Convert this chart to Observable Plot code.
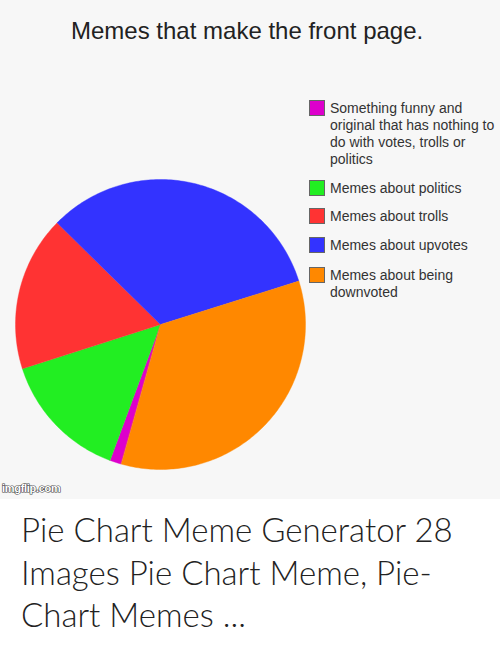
<!DOCTYPE html>
<html>
<head>
<meta charset="utf-8">
<script src="https://cdn.jsdelivr.net/npm/d3@7"></script>
<script src="https://cdn.jsdelivr.net/npm/@observablehq/plot@0.6"></script>
<style>
  html, body { margin: 0; padding: 0; background: #ffffff; }
  #wrap { position: relative; width: 500px; height: 652px; overflow: hidden; }
  #panel { position: absolute; left: 0; top: 0; width: 500px; height: 499px; background: #f7f7f7; }
  #title { position: absolute; left: 71px; top: 18.7px; font: 24px/24px "Liberation Sans", Arial, sans-serif; color: #222; white-space: nowrap; }
  #chart { position: absolute; left: 0; top: 50px; }
  #legend { position: absolute; left: 0; top: 0; }
  .item { position: absolute; left: 309px; }
  .sw { position: absolute; left: 0; top: 0; width: 14px; height: 14px; border: 1px solid #666; }
  .lbl { position: absolute; left: 21px; top: 0; font: 14px/17px "Liberation Sans", Arial, sans-serif; color: #333; white-space: nowrap; }
  #wm { position: absolute; left: 2px; top: 481px; font: bold 11px/14px "Liberation Sans", Arial, sans-serif; color: #fff; -webkit-text-stroke: 1.2px #444; paint-order: stroke fill; letter-spacing: -0.3px; }
  #caption { position: absolute; left: 21px; top: 508px; font: 300 33px/42.5px Lato, "Open Sans", sans-serif; color: #222; white-space: nowrap; }
</style>
</head>
<body>
<div id="wrap">
  <div id="panel"></div>
  <div id="title"></div>
  <div id="chart"></div>
  <div id="legend"></div>
  <div id="wm">imgflip.com</div>
  <div id="caption"></div>
</div>
<script>
// ---- data ----
const titleText = "Memes that make the front page.";
const categories = [
  "Something funny and original that has nothing to do with votes, trolls or politics",
  "Memes about politics",
  "Memes about trolls",
  "Memes about upvotes",
  "Memes about being downvoted"
];
const legendLines = [
  ["Something funny and", "original that has nothing to", "do with votes, trolls or", "politics"],
  ["Memes about politics"],
  ["Memes about trolls"],
  ["Memes about upvotes"],
  ["Memes about being", "downvoted"]
];
const values = [1.3, 14.4, 17.3, 32.8, 34.2];
const colors = ["#dd00cc", "#22ee22", "#ff3333", "#3333ff", "#ff8800"];
const startAngleDeg = 195.7;
const legendTops = [100, 180, 208, 237, 267];
const captionLines = ["Pie Chart Meme Generator 28", "Images Pie Chart Meme, Pie-", "Chart Memes ..."];

// ---- build slice polygons (unit circle, y down) ----
const start = startAngleDeg * Math.PI / 180;
const arcs = d3.pie().sort(null).value(d => d.value).startAngle(start).endAngle(start + 2 * Math.PI)(
  categories.map((name, i) => ({name, value: values[i]}))
);
const features = arcs.map(a => {
  const ring = [[0, 0]];
  const n = Math.max(2, Math.ceil((a.endAngle - a.startAngle) / (Math.PI / 180)));
  for (let k = 0; k <= n; ++k) {
    const t = a.startAngle + (a.endAngle - a.startAngle) * k / n;
    ring.push([Math.sin(t), -Math.cos(t)]);
  }
  ring.push([0, 0]);
  return {type: "Feature", properties: {name: a.data.name}, geometry: {type: "Polygon", coordinates: [ring]}};
});

const chart = Plot.plot({
  width: 500,
  height: 449,
  marginLeft: 15,
  marginRight: 195,
  marginTop: 129,
  marginBottom: 30,
  style: {background: "transparent"},
  projection: {type: "identity", domain: {type: "MultiPoint", coordinates: [[-1, -1], [1, 1]]}},
  color: {domain: categories, range: colors},
  marks: [
    Plot.geo(features, {fill: d => d.properties.name, stroke: d => d.properties.name, strokeWidth: 0.4})
  ]
});
document.getElementById("chart").appendChild(chart);

document.getElementById("title").textContent = titleText;

const legend = document.getElementById("legend");
categories.forEach((c, i) => {
  const item = document.createElement("div");
  item.className = "item";
  item.style.top = legendTops[i] + "px";
  const sw = document.createElement("div");
  sw.className = "sw";
  sw.style.background = colors[i];
  const lbl = document.createElement("div");
  lbl.className = "lbl";
  lbl.innerHTML = legendLines[i].join("<br>");
  item.appendChild(sw);
  item.appendChild(lbl);
  legend.appendChild(item);
});

document.getElementById("caption").innerHTML = captionLines.join("<br>");
</script>
</body>
</html>
